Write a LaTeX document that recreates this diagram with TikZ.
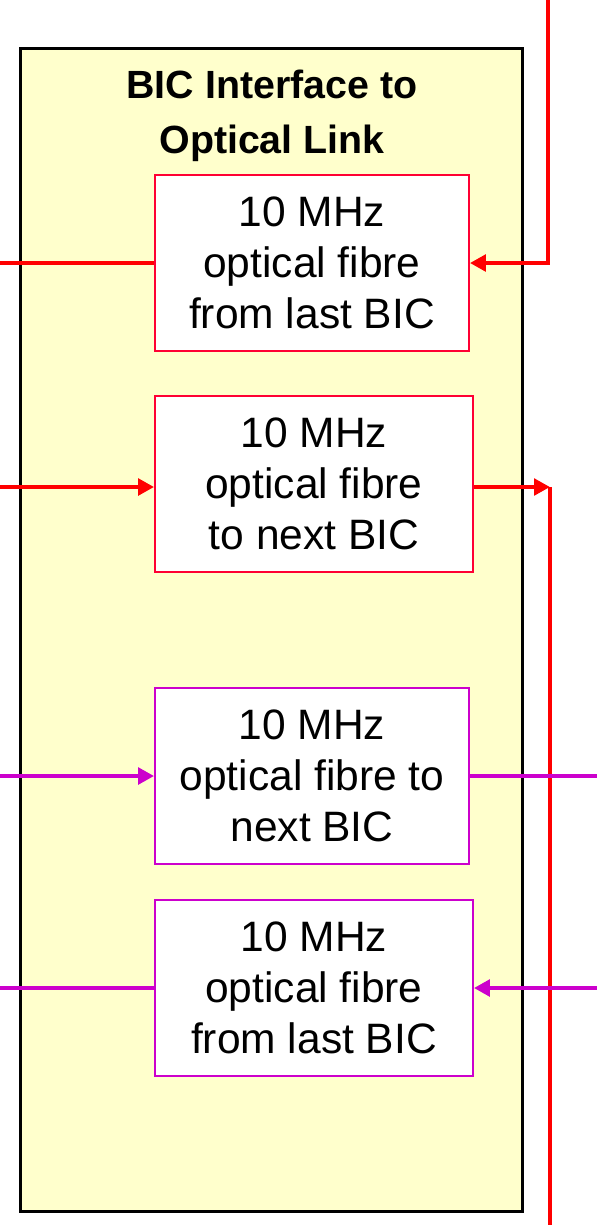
\documentclass[tikz,border=0pt]{standalone}
\usepackage{fontspec}
\setmainfont{Liberation Sans}
\usepackage{xcolor}
\usetikzlibrary{arrows.meta, positioning}
\definecolor{panelbg}{RGB}{255, 255, 204}
\definecolor{linkred}{RGB}{255, 0, 0}
\definecolor{boxred}{RGB}{255, 0, 51}
\definecolor{linkmag}{RGB}{204, 0, 204}
\newcommand{\boxfont}{\fontsize{24.2}{29}\selectfont}
\newcommand{\titlefont}{\fontsize{22.4}{31.5}\selectfont\bfseries}

\begin{document}
\begin{tikzpicture}[x=0.02cm, y=-0.02cm,
			panel/.style={rectangle, draw=black, fill=panelbg, line width=1.7pt,
				minimum width=10.06cm, minimum height=23.28cm},
			fibre/.style={rectangle, draw=#1, fill=white, line width=1.1pt,
				minimum height=3.52cm, align=center, font=\boxfont, inner sep=0pt},
			link/.style={line width=2.6pt, draw=#1},
			tip/.style={-{Triangle[length=0.32cm, width=0.33cm]}}]
			
			\useasboundingbox (0,0) rectangle (597,1225);
			
			\node[panel] (bic) at (271.5,630) {};
			\node[font=\titlefont, align=center] (title) at (272,116) {BIC Interface to\\Optical Link};
			
			\node[fibre=boxred, minimum width=6.28cm] (rxa) at (312,263) {10 MHz\\optical fibre\\from last BIC};
			\node[fibre=boxred, minimum width=6.36cm] (txa) at (314,484) {10 MHz\\optical fibre\\to next BIC};
			\node[fibre=linkmag, minimum width=6.28cm] (txb) at (312,776) {10 MHz\\optical fibre to\\next BIC};
			\node[fibre=linkmag, minimum width=6.36cm] (rxb) at (314,988) {10 MHz\\optical fibre\\from last BIC};
			
			% free ends
			\coordinate (rxaL) at (0,263);
			\coordinate (rxaTop) at (548,0);
			\coordinate (rxaR) at (548,263);
			\coordinate (txaL) at (0,487);
			\coordinate (txaR) at (550,487);
			\coordinate (txaBot) at (550,1225);
			\coordinate (txbL) at (0,776);
			\coordinate (txbR) at (597,776);
			\coordinate (rxbL) at (0,988);
			\coordinate (rxbR) at (597,988);
			
			\draw[link=linkred] (rxa.west) -- (rxaL);
			\draw[link=linkred, tip] (rxaTop) -- (rxaR) -- (rxaR -| rxa.east);
			\draw[link=linkred, tip] (txaL) -- (txaL -| txa.west);
			\draw[link=linkred, tip] (txaL -| txa.east) -- (txaR);
			\draw[link=linkred] (txaR) -- (txaBot);
			
			\draw[link=linkmag, tip] (txbL) -- (txb.west);
			\draw[link=linkmag] (txb.east) -- (txbR);
			\draw[link=linkmag, tip] (rxbR) -- (rxb.east);
			\draw[link=linkmag] (rxb.west) -- (rxbL);
		\end{tikzpicture}
\end{document}
